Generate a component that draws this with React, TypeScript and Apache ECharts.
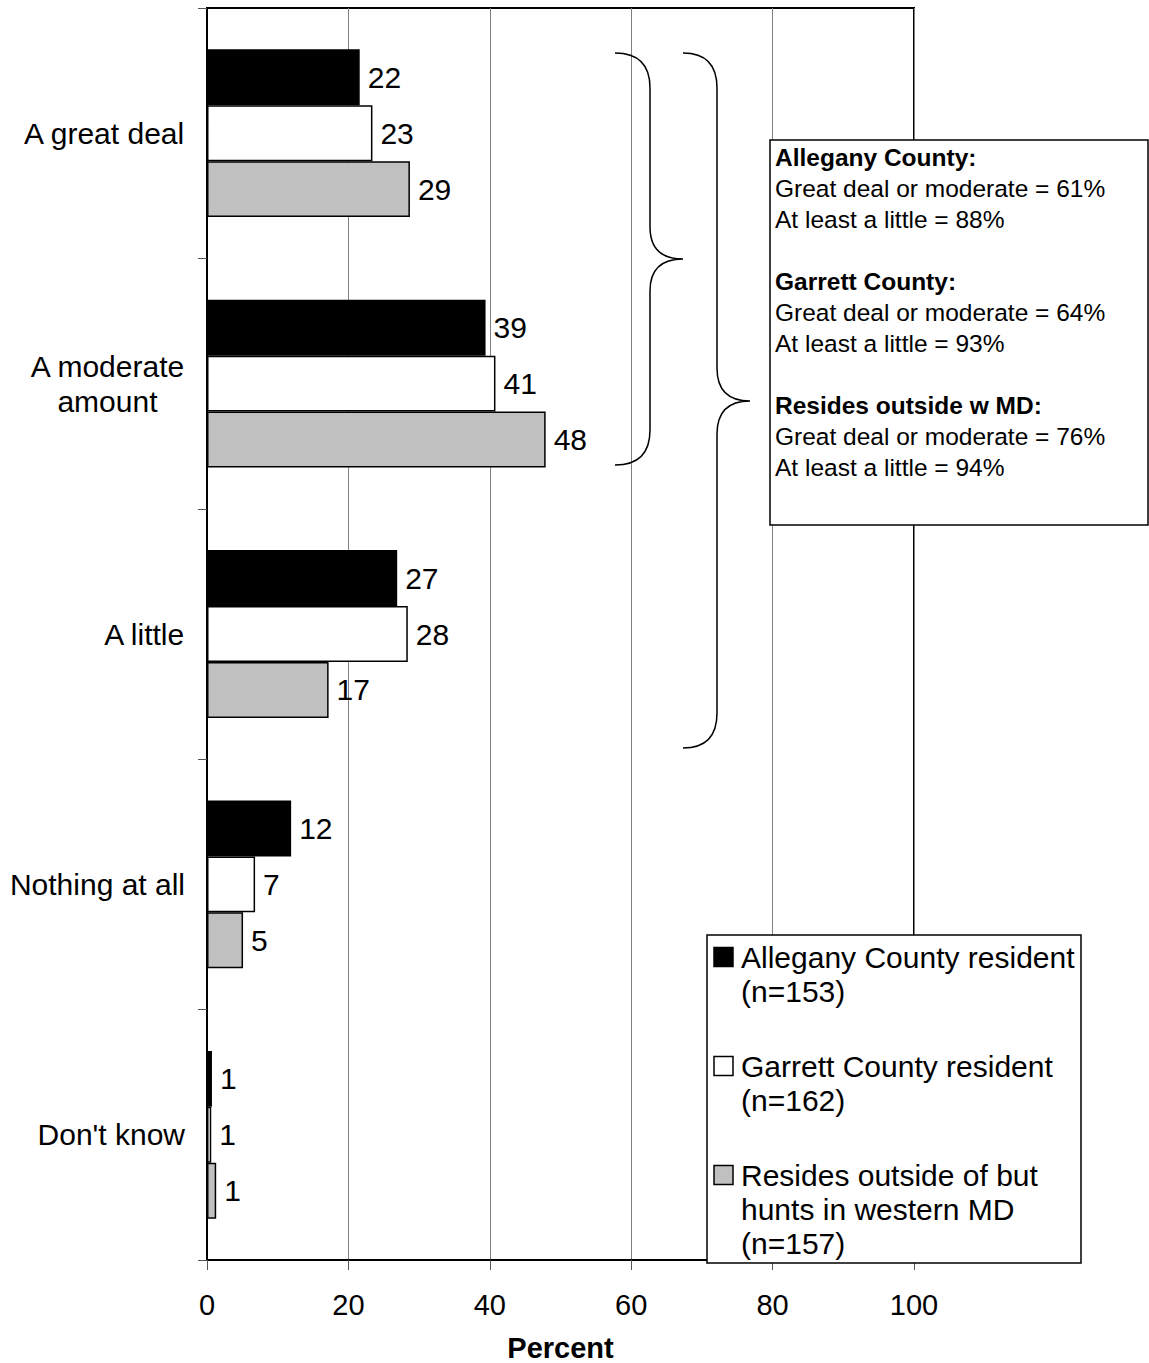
import React, { useEffect, useRef } from "react";
import * as echarts from "echarts";

// ---- data ----
const CATEGORIES = ["A great deal", "A moderate\namount", "A little", "Nothing at all", "Don't know"];
const SERIES_NAMES = [
  "Allegany County resident\n(n=153)",
  "Garrett County resident\n(n=162)",
  "Resides outside of but\nhunts in western MD\n(n=157)",
];
const ALLEGANY = [21.6, 39.4, 26.9, 11.9, 0.7];
const GARRETT = [23.4, 40.8, 28.4, 6.8, 0.6];
const OUTSIDE = [28.7, 47.9, 17.2, 5.1, 1.3];
const SERIES_COLORS = ["#000000", "#ffffff", "#c0c0c0"];
const X_MIN = 0;
const X_MAX = 100;
const X_INTERVAL = 20;

const SUMMARY_GROUPS = ["Allegany County:", "Garrett County:", "Resides outside w MD:"];
const SUMMARY_GREAT_MOD = [61, 64, 76];
const SUMMARY_AT_LEAST = [88, 93, 94];

const FONT = "'Liberation Sans', Arial, Helvetica, sans-serif";

const BRACE_PATH =
  "M615,53 Q650,53 650,88 L650,227 Q650,259 683,259 Q650,259 650,291 L650,430 Q650,465 615,465 " +
  "M683,53 Q717,53 717,88 L717,368 Q717,401 750,401 Q717,401 717,434 L717,713 Q717,748 683,748";

let registered = false;
function ensureShapes() {
  if (registered) return;
  echarts.graphic.registerShape("braces", echarts.graphic.extendPath(BRACE_PATH, {}) as any);
  registered = true;
}

export default function App() {
  const ref = useRef<HTMLDivElement>(null);

  useEffect(() => {
    document.body.style.margin = "0";
    ensureShapes();
    const chart = echarts.init(ref.current!, null, { renderer: "svg" });

    const seriesData = [ALLEGANY, GARRETT, OUTSIDE];

    // summary text box lines
    const summaryLines: { text: string; bold: boolean }[] = [];
    SUMMARY_GROUPS.forEach((g, i) => {
      if (i > 0) summaryLines.push({ text: "", bold: false });
      summaryLines.push({ text: g, bold: true });
      summaryLines.push({ text: `Great deal or moderate = ${SUMMARY_GREAT_MOD[i]}%`, bold: false });
      summaryLines.push({ text: `At least a little = ${SUMMARY_AT_LEAST[i]}%`, bold: false });
    });

    const graphics: any[] = [];
    graphics.push({
      type: "braces",
      x: 0,
      y: 0,
      z: 100,
      style: { fill: "none", stroke: "#000", lineWidth: 1.5 },
    });
    // summary box
    graphics.push({
      type: "rect",
      z: 100,
      shape: { x: 770, y: 140, width: 378, height: 385 },
      style: { fill: "#fff", stroke: "#000", lineWidth: 1.5 },
    });
    summaryLines.forEach((l, i) => {
      if (!l.text) return;
      graphics.push({
        type: "text",
        z: 101,
        x: 775,
        y: 157 + i * 31,
        style: {
          text: l.text,
          fontSize: 24.5,
          fontFamily: FONT,
          fontWeight: l.bold ? "bold" : "normal",
          fill: "#000",
          align: "left",
          verticalAlign: "middle",
        },
      });
    });
    // legend box
    graphics.push({
      type: "rect",
      z: 100,
      shape: { x: 707, y: 935, width: 374, height: 328 },
      style: { fill: "#fff", stroke: "#000", lineWidth: 1.5 },
    });
    let yc = 957;
    SERIES_NAMES.forEach((name, i) => {
      const nLines = name.split("\n").length;
      graphics.push({
        type: "rect",
        z: 101,
        shape: { x: 714, y: yc - 9.5, width: 19, height: 19 },
        style: { fill: SERIES_COLORS[i], stroke: "#000", lineWidth: 1.5 },
      });
      graphics.push({
        type: "text",
        z: 101,
        x: 741,
        y: yc - 17,
        style: {
          text: name,
          fontSize: 30,
          lineHeight: 34,
          fontFamily: FONT,
          fill: "#000",
          align: "left",
          verticalAlign: "top",
        },
      });
      yc += nLines * 34 + 41;
    });

    chart.setOption({
      animation: false,
      textStyle: { fontFamily: FONT },
      grid: {
        left: 207,
        right: 235,
        top: 8,
        bottom: 103,
        containLabel: false,
        outerBoundsMode: "none",
        show: true,
        borderColor: "#000",
        borderWidth: 2,
        backgroundColor: "transparent",
      },
      xAxis: {
        type: "value",
        min: X_MIN,
        max: X_MAX,
        interval: X_INTERVAL,
        axisLine: { show: true, lineStyle: { color: "#000", width: 2 } },
        axisTick: { show: true, length: 10, lineStyle: { color: "#555", width: 1 } },
        axisLabel: { fontSize: 29, color: "#000", margin: 30, fontFamily: FONT },
        splitLine: { show: true, lineStyle: { color: "#808080", width: 1 } },
        name: "Percent",
        nameLocation: "middle",
        nameGap: 73,
        nameTextStyle: {
          fontSize: 29,
          lineHeight: 30,
          fontWeight: "bold",
          color: "#000",
          fontFamily: FONT,
        },
      },
      yAxis: {
        type: "category",
        inverse: true,
        data: CATEGORIES,
        axisLine: { show: true, lineStyle: { color: "#000", width: 2 } },
        axisTick: { show: true, length: 9, lineStyle: { color: "#555", width: 1 } },
        axisLabel: {
          margin: 22,
          formatter: (v: string) =>
            v
              .split("\n")
              .map((s) => `{c|${s}}`)
              .join("\n"),
          rich: {
            c: { fontSize: 30, lineHeight: 35, color: "#000", fontFamily: FONT, align: "center" },
          },
        },
        splitLine: { show: false },
      },
      series: seriesData.map((d, i) => ({
        type: "bar",
        name: SERIES_NAMES[i],
        data: d,
        barGap: "0%",
        barCategoryGap: "33%",
        itemStyle: { color: SERIES_COLORS[i], borderColor: "#000", borderWidth: 1.5 },
        label: {
          show: true,
          position: "right",
          distance: 8,
          fontSize: 30,
          color: "#000",
          fontFamily: FONT,
          formatter: (p: any) => String(Math.round(p.value)),
        },
      })),
      graphic: graphics,
    });

    return () => chart.dispose();
  }, []);

  return <div ref={ref} style={{ width: 1149, height: 1363 }} />;
}
